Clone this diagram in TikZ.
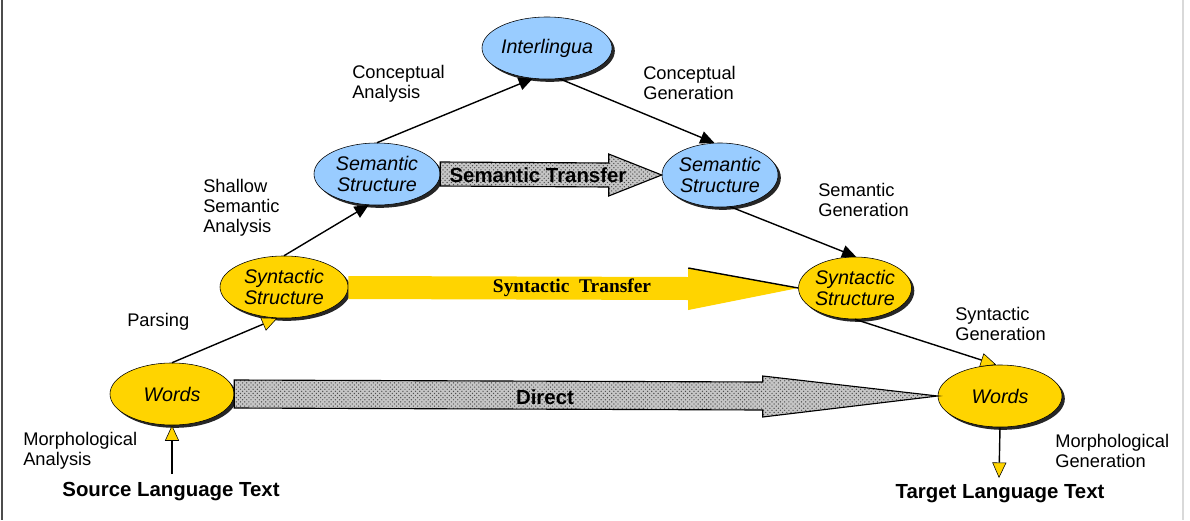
\documentclass[tikz,border=0pt]{standalone}
\usepackage{fontspec}
\setmainfont{Liberation Sans}
\newfontfamily\timesbf{Liberation Serif}
\usetikzlibrary{shapes}
\usetikzlibrary{positioning}
\usetikzlibrary{calc}
\usetikzlibrary{shadows}
\usetikzlibrary{patterns}
\usetikzlibrary{arrows.meta}
\definecolor{nodeblue}{RGB}{153,204,255}
\definecolor{nodeyellow}{RGB}{255,212,0}
\tikzset{
    Node/.style = {ellipse, draw=black, align=center, inner sep=0pt,
        font=\fontsize{14}{15.5}\selectfont\itshape,
        drop shadow={shadow xshift=2pt, shadow yshift=-2pt, fill=black!85, opacity=1}}
}
\tikzset{
    Edge/.style = {draw=black, line width=1pt, -{Triangle[length=10pt,width=9pt]}}
}

\begin{document}
\begin{tikzpicture}[
    x=0.025cm, y=-0.025cm,
    Label/.style = {align=left, inner sep=0pt, anchor=west,
        font=\fontsize{13}{14.2}\selectfont},
    Title/.style = {inner sep=0pt, font=\fontsize{14.5}{16}\selectfont\bfseries},
    YellowEdge/.style = {draw=black, line width=1pt,
        -{Triangle[length=11pt,width=10pt,fill=nodeyellow,color=black,line width=0.4pt]}},
    GrayArrow/.style = {draw=black, line width=0.8pt, preaction={fill=gray!45},
        pattern=crosshatch dots, pattern color=black!70},
    YellowArrow/.style = {fill=nodeyellow, draw=none}
]
\useasboundingbox (0,0) rectangle (1190,520);
\draw[black!70, line width=1pt] (2,0) -- (2,520);
\draw[black!15, line width=0.8pt] (1183,0) -- (1183,520);

\tikzset{
    BlueNode/.style = {Node, fill=nodeblue},
    YellowNode/.style = {Node, fill=nodeyellow},
}
\node[BlueNode, minimum width=3.2cm, minimum height=1.55cm] at (547,48) (inter) {Interlingua};
\node[BlueNode, minimum width=3.15cm, minimum height=1.55cm] at (377,174) (semL) {Semantic\\Structure};
\node[BlueNode, minimum width=2.7cm, minimum height=1.6cm] at (720,175) (semR) {Semantic\\Structure};
\node[YellowNode, minimum width=3.2cm, minimum height=1.55cm] at (284,287) (synL) {Syntactic\\Structure};
\node[YellowNode, minimum width=2.75cm, minimum height=1.55cm] at (855,288) (synR) {Syntactic\\Structure};
\node[YellowNode, minimum width=3.1cm, minimum height=1.55cm] at (172,394) (wordL) {Words};
\node[YellowNode, minimum width=3.1cm, minimum height=1.55cm] at (1000,396) (wordR) {Words};

\node[Title] at (171,492) (src) {Source Language Text};
\node[Title] at (1000,494) (tgt) {Target Language Text};
\coordinate (srcTop) at (172,474);
\coordinate (tgtTop) at (999,478);

% transfer arrows
\draw[GrayArrow] ($(semL.east)+(0,-12)$) -- ($(semR.west)+(-53,-12)$)
    -- ($(semR.west)+(-53,-21)$) -- (semR.west) -- ($(semR.west)+(-53,21)$)
    -- ($(semR.west)+(-53,12)$) -- ($(semL.east)+(0,12)$) -- cycle;
\node[font=\fontsize{14.5}{16}\selectfont\bfseries] at (538,175) (semT) {Semantic Transfer};

\path[YellowArrow] ($(synL.east)+(0,-11)$) -- ($(synR.west)+(-110,-11)$)
    -- ($(synR.west)+(-110,-20)$) -- (synR.west) -- ($(synR.west)+(-110,22)$)
    -- ($(synR.west)+(-110,12)$) -- ($(synL.east)+(0,12)$) -- cycle;
\draw[black, line width=1pt] ($(synR.west)+(-110,-20)$) -- (synR.west);
\node[font=\fontsize{13.8}{15}\timesbf\bfseries] at (572,288) (synT) {Syntactic\ \ Transfer};

\draw[GrayArrow] ($(wordL.east)+(0,-14)$) -- ($(wordR.west)+(-175,-14)$)
    -- ($(wordR.west)+(-175,-20)$) -- (wordR.west) -- ($(wordR.west)+(-175,21)$)
    -- ($(wordR.west)+(-175,14)$) -- ($(wordL.east)+(0,14)$) -- cycle;
\node[font=\fontsize{14.5}{16}\selectfont\bfseries] at (545,397) (dirT) {Direct};

% analysis / generation steps
\path (srcTop) edge [YellowEdge] (wordL.south);
\path (wordL.north) edge [YellowEdge] (synL.258);
\path (synL.north) edge [Edge] (semL.255);
\path (semL.north) edge [Edge] (inter.245);
\path (inter.292) edge [Edge] (semR.100);
\path (semR.288) edge [Edge] (synR.88);
\path (synR.south) edge [YellowEdge] (wordR.97);
\path (wordR.south) edge [YellowEdge] (tgtTop);

\node[Label] at (352,84) (lConcA) {Conceptual\\Analysis};
\node[Label] at (643,83) (lConcG) {Conceptual\\Generation};
\node[Label] at (203,208) (lShallow) {Shallow\\Semantic\\Analysis};
\node[Label] at (818,200) (lSemG) {Semantic\\Generation};
\node[Label] at (127,322) (lParse) {Parsing};
\node[Label] at (955,324) (lSynG) {Syntactic\\Generation};
\node[Label] at (23,451) (lMorA) {Morphological\\Analysis};
\node[Label] at (1055,451) (lMorG) {Morphological\\Generation};
\end{tikzpicture}
\end{document}
